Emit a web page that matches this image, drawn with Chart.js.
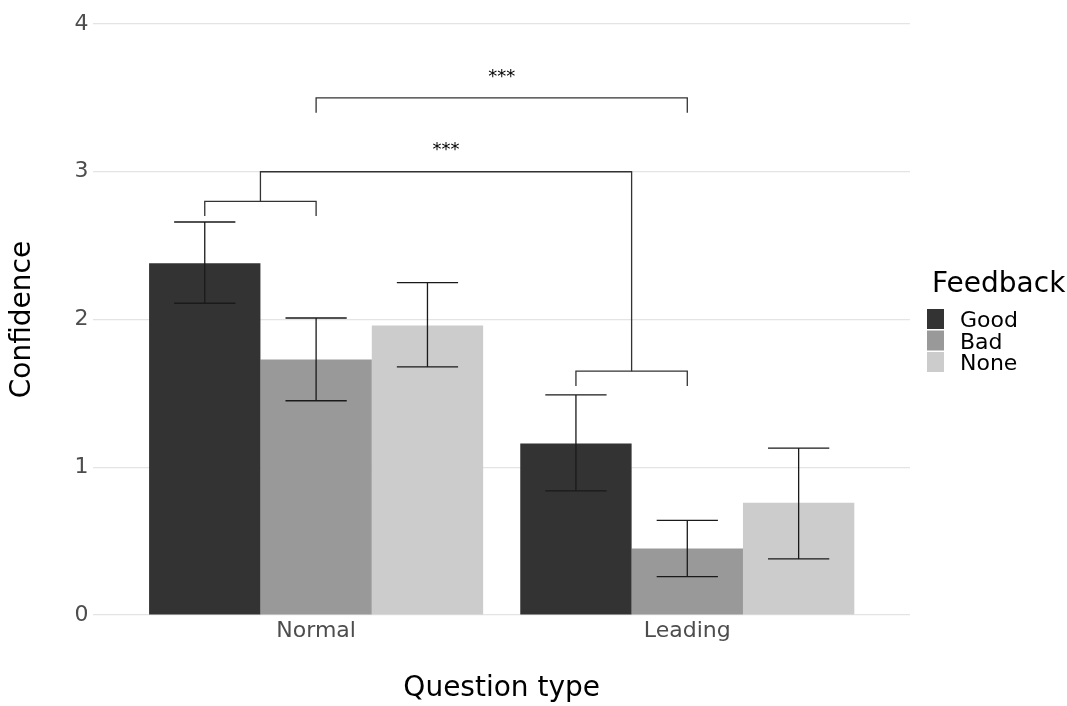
<!DOCTYPE html>
<html>
<head>
<meta charset="utf-8">
<script src="https://cdn.jsdelivr.net/npm/chart.js@4"></script>
<style>
  html, body { margin: 0; padding: 0; background: #fff; }
  #wrap { width: 1067px; height: 706px; }
</style>
</head>
<body>
<div id="wrap"><canvas id="confChart" width="1067" height="706"></canvas></div>
<script>
// categories on the x axis (placed at 1 and 2 on a linear scale)
const categories = ['Normal', 'Leading'];
const categoryPos = [1, 2];
const feedbackLabels = ['Good', 'Bad', 'None'];
const feedbackColors = ['#333333', '#999999', '#cccccc'];

// mean confidence per feedback type
const meanGood = [2.38, 1.16];
const meanBad = [1.73, 0.45];
const meanNone = [1.96, 0.76];

// error bar ends
const lowGood = [2.11, 0.84];
const highGood = [2.66, 1.49];
const lowBad = [1.45, 0.26];
const highBad = [2.01, 0.64];
const lowNone = [1.68, 0.38];
const highNone = [2.25, 1.13];

const yTicks = [0, 1, 2, 3, 4];

// significance brackets (x in axis units, y in confidence units)
const bracketX1 = [0.7, 1.7, 0.85, 1.0];
const bracketX2 = [1.0, 2.0, 1.85, 2.0];
const bracketTop = [2.8, 1.65, 3.0, 3.5];
const bracketLeftEnd = [2.7, 1.55, 2.8, 3.4];
const bracketRightEnd = [2.7, 1.55, 1.65, 3.4];
const sigText = ['', '', '***', '***'];
const sigTextY = [null, null, 3.11, 3.61];

const means = [meanGood, meanBad, meanNone];
const lows = [lowGood, lowBad, lowNone];
const highs = [highGood, highBad, highNone];

Chart.defaults.font.family = "'DejaVu Sans', sans-serif";

// error bars drawn on top of each bar
const errorBars = {
  id: 'errorBars',
  afterDatasetsDraw(chart) {
    const ctx = chart.ctx;
    const y = chart.scales.y;
    ctx.save();
    ctx.strokeStyle = '#1a1a1a';
    ctx.lineWidth = 1.3;
    chart.data.datasets.forEach((ds, d) => {
      const meta = chart.getDatasetMeta(d);
      meta.data.forEach((bar, i) => {
        const half = bar.width * 0.275;
        const yl = y.getPixelForValue(lows[d][i]);
        const yh = y.getPixelForValue(highs[d][i]);
        ctx.beginPath();
        ctx.moveTo(bar.x, yl); ctx.lineTo(bar.x, yh);
        ctx.moveTo(bar.x - half, yl); ctx.lineTo(bar.x + half, yl);
        ctx.moveTo(bar.x - half, yh); ctx.lineTo(bar.x + half, yh);
        ctx.stroke();
      });
    });
    ctx.restore();
  }
};

// significance brackets and stars
const sigBrackets = {
  id: 'sigBrackets',
  afterDatasetsDraw(chart) {
    const ctx = chart.ctx;
    const x = chart.scales.x, y = chart.scales.y;
    ctx.save();
    ctx.strokeStyle = '#333333';
    ctx.lineWidth = 1.3;
    for (let i = 0; i < bracketX1.length; i++) {
      const x1 = x.getPixelForValue(bracketX1[i]);
      const x2 = x.getPixelForValue(bracketX2[i]);
      const yt = y.getPixelForValue(bracketTop[i]);
      ctx.beginPath();
      ctx.moveTo(x1, y.getPixelForValue(bracketLeftEnd[i]));
      ctx.lineTo(x1, yt);
      ctx.lineTo(x2, yt);
      ctx.lineTo(x2, y.getPixelForValue(bracketRightEnd[i]));
      ctx.stroke();
      if (sigText[i]) {
        ctx.fillStyle = '#000';
        ctx.font = "18px 'DejaVu Sans', sans-serif";
        ctx.textAlign = 'center';
        ctx.textBaseline = 'alphabetic';
        ctx.fillText(sigText[i], (x1 + x2) / 2, y.getPixelForValue(sigTextY[i]));
      }
    }
    ctx.restore();
  }
};

// ggplot-like legend at the right
const sideLegend = {
  id: 'sideLegend',
  afterDraw(chart) {
    const ctx = chart.ctx;
    const left = chart.chartArea.right + 17;
    ctx.save();
    ctx.fillStyle = '#000';
    ctx.textAlign = 'left';
    ctx.textBaseline = 'alphabetic';
    ctx.font = "28px 'DejaVu Sans', sans-serif";
    ctx.fillText('Feedback', left + 5, 292);
    ctx.font = "22px 'DejaVu Sans', sans-serif";
    chart.data.datasets.forEach((ds, i) => {
      const top = 309 + i * 21.5;
      ctx.fillStyle = ds.backgroundColor;
      ctx.fillRect(left, top, 17, 20);
      ctx.fillStyle = '#000';
      ctx.fillText(ds.label, left + 33, top + 18);
    });
    ctx.restore();
  }
};

const ctx = document.getElementById('confChart').getContext('2d');
new Chart(ctx, {
  type: 'bar',
  data: {
    datasets: feedbackLabels.map((lab, d) => ({
      label: lab,
      data: categoryPos.map((p, i) => ({ x: p, y: means[d][i] })),
      backgroundColor: feedbackColors[d],
      borderWidth: 0,
      categoryPercentage: 0.9,
      barPercentage: 1.0
    }))
  },
  options: {
    responsive: false,
    animation: false,
    layout: { padding: { top: 24, right: 157, left: 0, bottom: 0 } },
    plugins: {
      legend: { display: false },
      tooltip: { enabled: false }
    },
    scales: {
      x: {
        type: 'linear',
        min: 0.4,
        max: 2.6,
        offset: false,
        afterBuildTicks: (scale) => { scale.ticks = categoryPos.map(v => ({ value: v })); },
        afterFit: (scale) => { scale.height = 91; },
        grid: { display: false, drawTicks: false, offset: false },
        border: { display: false },
        ticks: {
          autoSkip: false,
          padding: 3,
          color: '#4d4d4d',
          font: { size: 22 },
          callback: (v) => categories[categoryPos.indexOf(v)]
        },
        title: {
          display: true,
          text: 'Question type',
          color: '#000',
          font: { size: 28 },
          padding: { top: 0, bottom: 0 }
        }
      },
      y: {
        min: 0,
        max: 4,
        afterBuildTicks: (scale) => { scale.ticks = yTicks.map(v => ({ value: v })); },
        afterFit: (scale) => { scale.width = 93.4; },
        grid: { color: '#e4e4e4', lineWidth: 1.2, drawTicks: false },
        border: { display: false },
        ticks: {
          padding: 5,
          color: '#4d4d4d',
          font: { size: 22 }
        },
        title: {
          display: true,
          text: 'Confidence',
          color: '#000',
          font: { size: 28 },
          padding: { top: 6, bottom: 0 }
        }
      }
    }
  },
  plugins: [errorBars, sigBrackets, sideLegend]
});
</script>
</body>
</html>
